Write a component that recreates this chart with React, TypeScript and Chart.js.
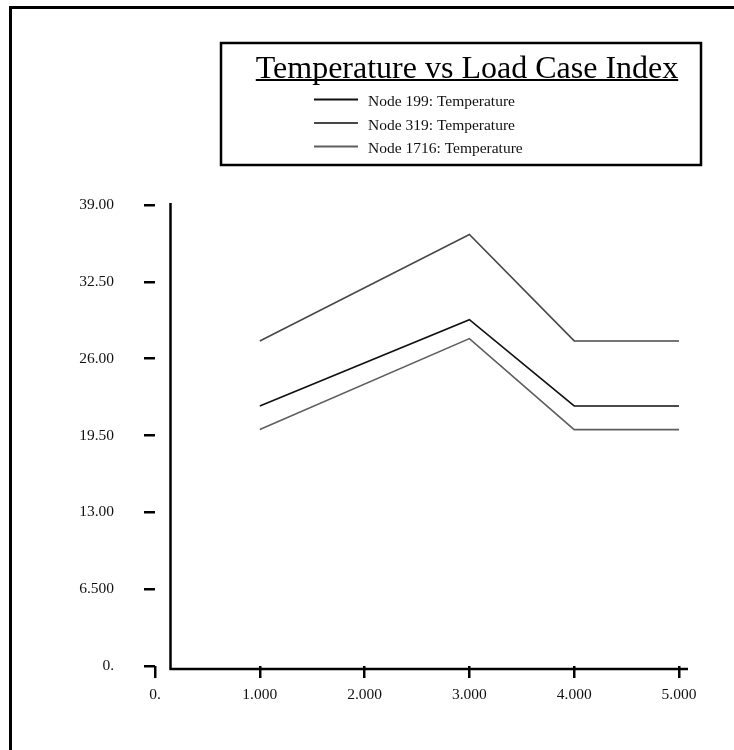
import React, { useEffect, useRef } from 'react';
import { Chart, registerables } from 'chart.js';

Chart.register(...registerables);

const CHART_TITLE = 'Temperature vs Load Case Index';
const LOAD_CASES = [1, 3, 4, 5];
const SERIES_LABELS = ['Node 199: Temperature', 'Node 319: Temperature', 'Node 1716: Temperature'];
const NODE_199 = [22.0, 29.3, 22.0, 22.0];
const NODE_319 = [27.5, 36.5, 27.5, 27.5];
const NODE_1716 = [20.0, 27.7, 20.0, 20.0];
const SERIES_COLORS = ['#111111', '#484848', '#5e5e5e'];
const X_TICKS = [0, 1, 2, 3, 4, 5];
const X_TICK_LABELS = ['0.', '1.000', '2.000', '3.000', '4.000', '5.000'];
const Y_TICKS = [0, 6.5, 13, 19.5, 26, 32.5, 39];
const Y_TICK_LABELS = ['0.', '6.500', '13.00', '19.50', '26.00', '32.50', '39.00'];
const X_MIN = 0;
const X_MAX = 5.086;
const Y_MIN = 0;
const Y_MAX = 39;

const FONT = 'Liberation Serif, Times New Roman, serif';

const decorPlugin = {
  id: 'decor',
  afterDraw(chart: any) {
    const ctx = chart.ctx;
    const ca = chart.chartArea;
    ctx.save();
    ctx.strokeStyle = '#000';
    // outer frame (top + left)
    ctx.lineWidth = 3;
    ctx.beginPath();
    ctx.moveTo(10.5, 750);
    ctx.lineTo(10.5, 7.5);
    ctx.lineTo(734, 7.5);
    ctx.stroke();

    // axis lines
    ctx.lineWidth = 2.5;
    ctx.beginPath();
    ctx.moveTo(ca.left + 15.5, ca.top - 2);
    ctx.lineTo(ca.left + 15.5, ca.bottom + 4);
    ctx.moveTo(ca.left + 14.5, ca.bottom + 3);
    ctx.lineTo(ca.right, ca.bottom + 3);
    ctx.stroke();

    // legend box
    ctx.lineWidth = 2.5;
    ctx.strokeRect(221, 43, 480, 122);

    // title
    ctx.fillStyle = '#000';
    ctx.font = '32px ' + FONT;
    ctx.textAlign = 'center';
    ctx.textBaseline = 'alphabetic';
    const cx = 467;
    ctx.fillText(CHART_TITLE, cx, 78);
    const w = ctx.measureText(CHART_TITLE).width;
    ctx.lineWidth = 2;
    ctx.beginPath();
    ctx.moveTo(cx - w / 2, 80);
    ctx.lineTo(cx + w / 2, 80);
    ctx.stroke();

    // legend rows
    ctx.font = '15.5px ' + FONT;
    ctx.textAlign = 'left';
    chart.data.datasets.forEach((ds: any, i: number) => {
      const y = 99.5 + i * 23.5;
      ctx.strokeStyle = ds.borderColor;
      ctx.lineWidth = 2;
      ctx.beginPath();
      ctx.moveTo(314, y);
      ctx.lineTo(358, y);
      ctx.stroke();
      ctx.fillStyle = '#111';
      ctx.fillText(ds.label, 368, y + 6.5);
    });
    ctx.restore();
  },
};

export default function App() {
  const ref = useRef<HTMLCanvasElement | null>(null);

  useEffect(() => {
    if (!ref.current) return;
    const seriesValues = [NODE_199, NODE_319, NODE_1716];
    const chart = new Chart(ref.current, {
      type: 'line',
      data: {
        datasets: seriesValues.map((vals, i) => ({
          label: SERIES_LABELS[i],
          data: LOAD_CASES.map((x, j) => ({ x, y: vals[j] })),
          borderColor: SERIES_COLORS[i],
          backgroundColor: SERIES_COLORS[i],
          borderWidth: 1.6,
          pointRadius: 0,
          tension: 0,
          fill: false,
        })),
      },
      options: {
        responsive: false,
        animation: false,
        layout: { padding: { top: 205, right: 46, bottom: 0, left: 0 } },
        plugins: {
          legend: { display: false },
          title: { display: false },
          tooltip: { enabled: false },
        },
        scales: {
          x: {
            type: 'linear',
            min: X_MIN,
            max: X_MAX,
            afterBuildTicks: (s: any) => {
              s.ticks = X_TICKS.map((v) => ({ value: v }));
            },
            afterFit: (s: any) => {
              s.height = 84;
            },
            grid: { drawOnChartArea: false, drawTicks: true, tickLength: 12, color: '#000', lineWidth: 2.5 },
            border: { display: false },
            ticks: {
              autoSkip: false,
              maxRotation: 0,
              padding: 8,
              color: '#111',
              font: { family: FONT, size: 15.5 },
              callback: (v: any) => X_TICK_LABELS[X_TICKS.indexOf(Number(v))],
            },
          },
          y: {
            type: 'linear',
            min: Y_MIN,
            max: Y_MAX,
            afterBuildTicks: (s: any) => {
              s.ticks = Y_TICKS.map((v) => ({ value: v }));
            },
            afterFit: (s: any) => {
              s.width = 155;
            },
            grid: { drawOnChartArea: false, drawTicks: true, tickLength: 11, color: '#000', lineWidth: 2.5 },
            border: { display: false },
            ticks: {
              autoSkip: false,
              padding: 30,
              color: '#111',
              font: { family: FONT, size: 15.5 },
              callback: (v: any) => Y_TICK_LABELS[Y_TICKS.indexOf(Number(v))],
            },
          },
        },
      },
      plugins: [decorPlugin],
    });
    return () => chart.destroy();
  }, []);

  return (
    <div style={{ position: 'fixed', left: 0, top: 0, width: 734, height: 750, background: '#fff' }}>
      <canvas ref={ref} width={734} height={750} style={{ width: 734, height: 750, display: 'block' }} />
    </div>
  );
}
